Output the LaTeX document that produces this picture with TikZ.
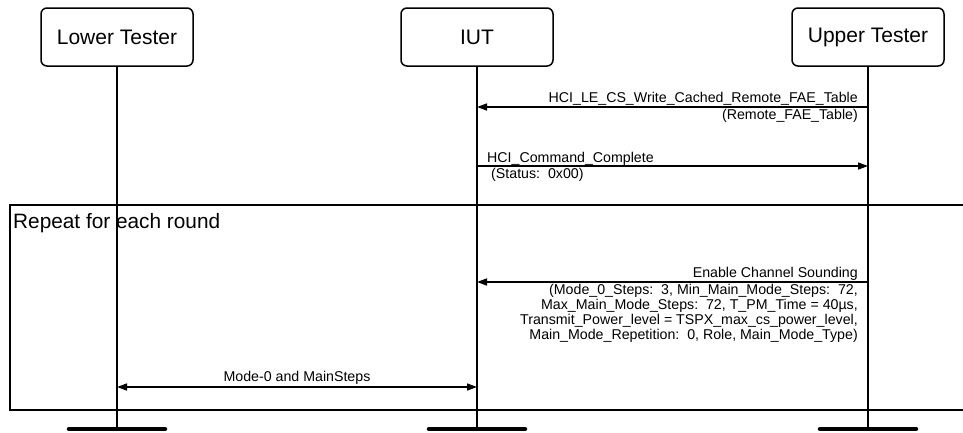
\documentclass[tikz,border=0pt]{standalone}
\usepackage{fontspec}
\setmainfont{Liberation Sans}
\usetikzlibrary{arrows.meta,positioning,calc}

\begin{document}
\begin{tikzpicture}[
    x=1pt, y=-1pt,
    >={Triangle[length=10pt,width=7pt]},
    actor/.style={
        rectangle,
        draw,
        line width=1.5pt,
        rounded corners=6pt,
        minimum width=152pt,
        minimum height=58pt,
        font=\fontsize{21}{25}\selectfont
    },
    lifeline/.style={line width=1.5pt},
    endbar/.style={line width=4.5pt, line cap=round},
    msg/.style={->, line width=1.5pt},
    msglabel/.style={font=\fontsize{14.2}{15}\selectfont, inner sep=0pt},
    frame/.style={line width=1.5pt},
    framelabel/.style={font=\fontsize{20.8}{25}\selectfont, inner sep=0pt, anchor=base west}
]
\useasboundingbox (0,0) rectangle (963,432);

% ---------------------------------------------------------------- Loop frame
\draw[frame] (963,205) -- (10,205) -- (10,410) -- (963,410);
\node[framelabel] (repeatlabel) at (13,228) {Repeat for each round};

% ---------------------------------------------------------------- Actors
\node[actor] (lower) at (117,37) {Lower Tester};
\node[actor] (iut)   at (477,37) {IUT};
\node[actor] (upper) at (868,37) {Upper Tester};

% ---------------------------------------------------------------- Lifelines
\coordinate (lowerEnd) at (117,429);
\coordinate (iutEnd)   at (477,429);
\coordinate (upperEnd) at (868,429);

\draw[lifeline] (lower.south) -- (lowerEnd);
\draw[lifeline] (iut.south)   -- (iutEnd);
\draw[lifeline] (upper.south) -- (upperEnd);

\draw[endbar] ([xshift=-48pt]lowerEnd) -- ([xshift=48pt]lowerEnd);
\draw[endbar] ([xshift=-48pt]iutEnd)   -- ([xshift=48pt]iutEnd);
\draw[endbar] ([xshift=-48pt]upperEnd) -- ([xshift=48pt]upperEnd);

% ---------------------------------------------------------------- Messages
\coordinate (row1) at (0,107);
\coordinate (row2) at (0,166);
\coordinate (row3) at (0,282);
\coordinate (row4) at (0,387);

% Upper Tester -> IUT
\draw[msg] (upper |- row1) -- (iut |- row1);
\node[msglabel, anchor=base east] (m1name) at ([xshift=-10pt,yshift=5pt]upper |- row1)
    {HCI\_LE\_CS\_Write\_Cached\_Remote\_FAE\_Table};
\node[msglabel, anchor=base east] (m1args) at ([xshift=-10pt,yshift=-12.5pt]upper |- row1)
    {(Remote\_FAE\_Table)};

% IUT -> Upper Tester
\draw[msg] (iut |- row2) -- (upper |- row2);
\node[msglabel, anchor=base west] (m2name) at ([xshift=10pt,yshift=4pt]iut |- row2)
    {HCI\_Command\_Complete};
\node[msglabel, anchor=base west] (m2args) at ([xshift=14pt,yshift=-12.5pt]iut |- row2)
    {(Status:\ \ 0x00)};

% Upper Tester -> IUT (inside loop)
\draw[msg] (upper |- row3) -- (iut |- row3);
\node[msglabel, anchor=base east] (m3name) at ([xshift=-10pt,yshift=5pt]upper |- row3)
    {Enable Channel Sounding};
\node[msglabel, anchor=north east, align=right] (m3args) at ([xshift=-10pt,yshift=-2pt]upper |- row3)
    {(Mode\_0\_Steps:\ \ 3, Min\_Main\_Mode\_Steps:\ \ 72,\\
     Max\_Main\_Mode\_Steps:\ \ 72, T\_PM\_Time = 40µs,\\
     Transmit\_Power\_level = TSPX\_max\_cs\_power\_level,\\
     Main\_Mode\_Repetition:\ \ 0, Role, Main\_Mode\_Type)};

% Lower Tester <-> IUT
\draw[msg, <->] (lower |- row4) -- node[msglabel, anchor=base, yshift=6pt] (m4name) {Mode-0 and MainSteps} (iut |- row4);

\end{tikzpicture}
\end{document}
